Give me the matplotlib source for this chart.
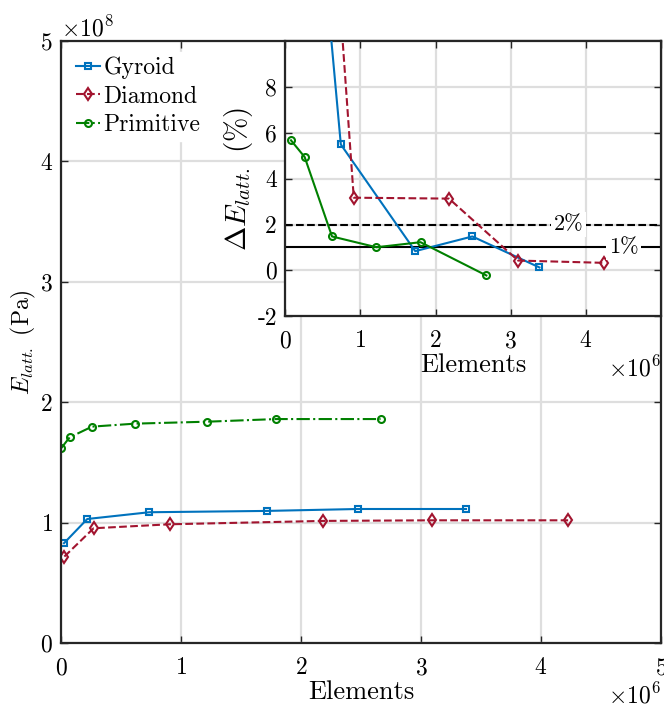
import matplotlib
matplotlib.use("Agg")
import matplotlib.pyplot as plt
from matplotlib.ticker import ScalarFormatter, FixedLocator

plt.rcParams.update({
    "font.family": "serif",
    "font.serif": ["cmr10"],
    "mathtext.fontset": "cm",
    "axes.formatter.use_mathtext": True,
    "axes.unicode_minus": False,
    "font.size": 17,
})

# Convergence of lattice modulus with mesh size
gyroid_elems = [0.025e6, 0.219e6, 0.735e6, 1.714e6, 2.477e6, 3.375e6]
gyroid_E = [0.829e8, 1.030e8, 1.086e8, 1.097e8, 1.113e8, 1.113e8]

diamond_elems = [0.028e6, 0.272e6, 0.905e6, 2.180e6, 3.088e6, 4.226e6]
diamond_E = [0.718e8, 0.953e8, 0.986e8, 1.014e8, 1.019e8, 1.019e8]

primitive_elems = [0.003e6, 0.072e6, 0.258e6, 0.619e6, 1.216e6, 1.794e6, 2.663e6]
primitive_E = [1.620e8, 1.708e8, 1.797e8, 1.822e8, 1.838e8, 1.860e8, 1.860e8]

# Relative change between successive meshes (%)
gyroid_dE_elems = [0.219e6, 0.739e6, 1.729e6, 2.489e6, 3.382e6]
gyroid_dE = [24.2, 5.49, 0.84, 1.48, 0.13]

diamond_dE_elems = [0.272e6, 0.911e6, 2.178e6, 3.098e6, 4.240e6]
diamond_dE = [32.7, 3.17, 3.13, 0.43, 0.33]

primitive_dE_elems = [0.076e6, 0.258e6, 0.622e6, 1.213e6, 1.800e6, 2.676e6]
primitive_dE = [5.67, 4.94, 1.48, 1.01, 1.23, -0.22]

thresholds = [2, 1]
threshold_labels = ["2%", "1%"]

blue = "#0072BD"
red = "#A2142F"
green = "#008000"
grid_c = "#dedede"

fig = plt.figure(figsize=(6.64, 7.11), dpi=100)
W, H = 664, 711


def style_axes(ax):
    ax.grid(True, color=grid_c, linewidth=1.6)
    ax.set_axisbelow(True)
    ax.tick_params(direction="in", top=True, right=True, length=5,
                   width=1.0, color="#262626", labelsize=17)
    ax.tick_params(axis="x", pad=10)
    ax.tick_params(axis="y", pad=6)
    for s in ax.spines.values():
        s.set_linewidth(1.6)
        s.set_color("#262626")


# Main axes
ax = fig.add_axes([61 / W, 1 - 643 / H, 600 / W, 602 / H])
style_axes(ax)
ax.plot(gyroid_elems, gyroid_E, "-s", color=blue, lw=1.5, ms=5,
        mfc="none", mew=1.5, label="Gyroid")
ax.plot(diamond_elems, diamond_E, "--d", color=red, lw=1.5, ms=6,
        mfc="none", mew=1.5, label="Diamond")
ax.plot(primitive_elems, primitive_E, "-.o", color=green, lw=1.5, ms=5,
        mfc="none", mew=1.5, label="Primitive")
ax.set_xlim(0, 5e6)
ax.set_ylim(0, 5e8)
ax.xaxis.set_major_locator(FixedLocator([0, 1e6, 2e6, 3e6, 4e6, 5e6]))
ax.yaxis.set_major_locator(FixedLocator([0, 1e8, 2e8, 3e8, 4e8, 5e8]))
for axis in (ax.xaxis, ax.yaxis):
    f = ScalarFormatter(useMathText=True)
    f.set_powerlimits((0, 0))
    axis.set_major_formatter(f)
ax.xaxis.get_offset_text().set_fontsize(17)
ax.yaxis.get_offset_text().set_fontsize(17)
ax.set_xlabel("Elements", fontsize=19, labelpad=1)
ax.set_ylabel(r"$E_{latt.}$ (Pa)", fontsize=17, labelpad=1)
leg = ax.legend(loc="upper left", frameon=True, fontsize=17,
                handlelength=1.0, handletextpad=0.15, borderaxespad=0.45,
                labelspacing=0.28, borderpad=0.2)
leg.get_frame().set_edgecolor("white")
leg.get_frame().set_alpha(1)
leg.get_frame().set_boxstyle("square", pad=0)

# Inset axes
ins = fig.add_axes([285.3 / W, 1 - 316.3 / H, 375.7 / W, 275.3 / H])
style_axes(ins)
ins.set_facecolor("white")
ins.plot(gyroid_dE_elems, gyroid_dE, "-s", color=blue, lw=1.5, ms=5,
         mfc="none", mew=1.5, zorder=3)
ins.plot(diamond_dE_elems, diamond_dE, "--d", color=red, lw=1.5, ms=6,
         mfc="none", mew=1.5, zorder=3)
ins.plot(primitive_dE_elems, primitive_dE, "-o", color=green, lw=1.5, ms=5,
         mfc="none", mew=1.5, zorder=3)
ins.axhline(thresholds[0], color="black", ls="--", lw=1.5, zorder=2)
ins.axhline(thresholds[1], color="black", ls="-", lw=1.5, zorder=2)
for yv, lab, xv in zip(thresholds, threshold_labels, [3.77e6, 4.5e6]):
    ins.text(xv, yv, lab, ha="center", va="center", fontsize=16, zorder=4,
             bbox=dict(facecolor="white", edgecolor="none", pad=2))
ins.set_xlim(0, 5e6)
ins.set_ylim(-2, 10)
ins.xaxis.set_major_locator(FixedLocator([0, 1e6, 2e6, 3e6, 4e6]))
ins.yaxis.set_major_locator(FixedLocator([-2, 0, 2, 4, 6, 8]))
fx = ScalarFormatter(useMathText=True)
fx.set_powerlimits((0, 0))
ins.xaxis.set_major_formatter(fx)
ins.yaxis.set_major_formatter(plt.FuncFormatter(lambda v, p: "%d" % v))
ins.xaxis.get_offset_text().set_fontsize(17)
ins.set_xlabel("Elements", fontsize=19, labelpad=1)
ins.set_ylabel(r"$\Delta E_{latt.}$ (%)", fontsize=21, labelpad=2)

fig.savefig("out.png", dpi=100)
